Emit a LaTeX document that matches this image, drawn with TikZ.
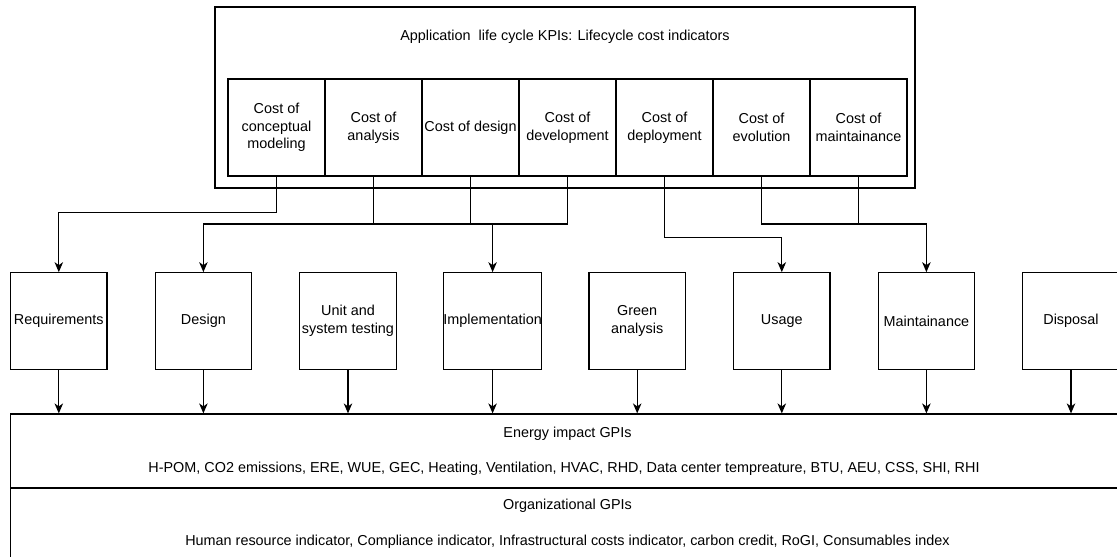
\documentclass[tikz,border=0pt]{standalone}
\usepackage{fontspec}
\setmainfont{Liberation Sans}
\usetikzlibrary{arrows.meta}
\newcommand\lbl{\fontsize{14.4}{17.6}\selectfont}
\tikzset{
  frame/.style={draw, line width=1.2pt, inner sep=0pt},
  costbox/.style={frame, minimum width=97pt, minimum height=97pt, align=center, font=\lbl},
  phasebox/.style={frame, minimum width=96.5pt, minimum height=96.5pt, align=center, font=\lbl},
  txt/.style={inner sep=0pt, font=\lbl, align=center},
  link/.style={line width=1.2pt},
  arrow/.style={link, -{Stealth[length=10pt, width=8.5pt, inset=3pt]}}
}
\begin{document}
\begin{tikzpicture}[x=1pt, y=-1pt]
\useasboundingbox (0,0) rectangle (1117,557);
\clip (0,0) rectangle (1117,557);

% lifecycle cost indicators
\node[frame, minimum width=700pt, minimum height=181pt] (kpi) at (565,97.5) {};
\node[txt] (kpititle) at (565,37) {Application\ \ life cycle KPIs: Lifecycle cost indicators};
\node[costbox] (c1) at (276.5,127.5) {Cost of\\conceptual\\modeling};
\node[costbox] (c2) at (373.5,127.5) {Cost of\\analysis};
\node[costbox] (c3) at (470.5,127.5) {Cost of design};
\node[costbox] (c4) at (567.5,127.5) {Cost of\\development};
\node[costbox] (c5) at (664.5,127.5) {Cost of\\deployment};
\node[costbox] (c6) at (761.5,127.5) {Cost of\\evolution};
\node[costbox] (c7) at (858.5,127.5) {Cost of\\maintainance};

% life cycle phases
\node[phasebox] (req)    at (58.8,321)   {Requirements};
\node[phasebox] (design) at (203.4,321)  {Design};
\node[phasebox] (test)   at (348,321)    {Unit and\\system testing};
\node[phasebox] (impl)   at (492.6,321)  {Implementation};
\node[phasebox] (green)  at (637.2,321)  {Green\\analysis};
\node[phasebox] (usage)  at (781.8,321)  {Usage};
\node[phasebox] (maint)  at (926.4,321)  {Maintainance};
\node[phasebox] (disp)   at (1071,321)   {Disposal};

% green performance indicators
\node[frame, minimum width=1114pt, minimum height=74pt] (energy) at (567.5,451) {};
\node[txt] (energytitle) at (567.5,434) {Energy impact GPIs};
\node[txt] (energylist) at (564,469) {H-POM, CO2 emissions, ERE, WUE, GEC, Heating, Ventilation, HVAC, RHD, Data center tempreature, BTU, AEU, CSS, SHI, RHI};
\node[frame, minimum width=1114pt, minimum height=82pt] (org) at (567.5,529) {};
\node[txt] (orgtitle) at (567.5,506) {Organizational GPIs};
\node[txt] (orglist) at (567.5,542) {Human resource indicator, Compliance indicator, Infrastructural costs indicator, carbon credit, RoGI, Consumables index};

% cost indicators feeding the phases
\coordinate (busA) at (0,224);
\draw[arrow] (c1.south) -- ++(0,36) -| (req.north);
\draw[link] (c2.south) -- (c2.south |- busA);
\draw[link] (c3.south) -- (c3.south |- busA);
\draw[arrow] (c4.south) -- (c4.south |- busA) -| (design.north);
\draw[arrow] (busA -| impl.north) -- (impl.north);
\draw[arrow] (c5.south) -- ++(0,61) -| (usage.north);
\draw[link] (c7.south) -- (c7.south |- busA);
\draw[arrow] (c6.south) -- (c6.south |- busA) -| (maint.north);

% phases feeding the indicators
\foreach \p in {req,design,test,impl,green,usage,maint,disp}
  \draw[arrow] (\p.south) -- (\p.south |- energy.north);
\end{tikzpicture}
\end{document}
